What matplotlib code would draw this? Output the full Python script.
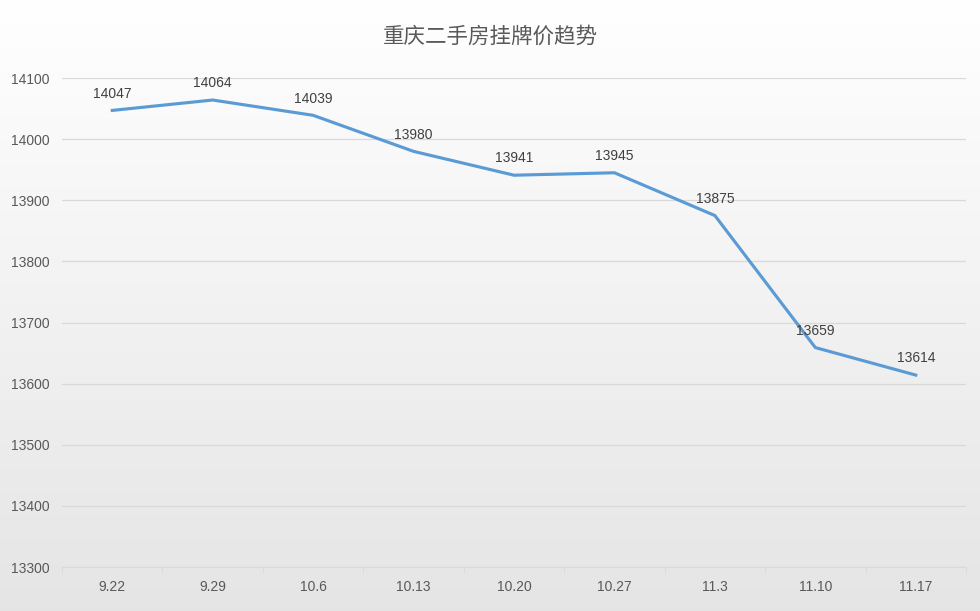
import numpy as np
import matplotlib
matplotlib.use("Agg")
from matplotlib import pyplot as plt

plt.rcParams['font.family'] = ['Liberation Sans', 'Noto Sans CJK SC', 'DejaVu Sans']

dates = ['9.22', '9.29', '10.6', '10.13', '10.20', '10.27', '11.3', '11.10', '11.17']
prices = [14047, 14064, 14039, 13980, 13941, 13945, 13875, 13659, 13614]
title = '重庆二手房挂牌价趋势'

text_color = '#595959'
line_color = '#5B9BD5'

fig = plt.figure(figsize=(9.8, 6.11), dpi=100)

# gradient background, white at top to light gray at bottom
bg = fig.add_axes([0, 0, 1, 1], zorder=0)
grad = np.linspace(1.0, 0.0, 256).reshape(-1, 1)
top = np.array([1.0, 1.0, 1.0])
bottom = np.array([0.898, 0.898, 0.898])
img = bottom + (top - bottom) * grad[..., None]
bg.imshow(img, aspect='auto', extent=[0, 1, 0, 1])
bg.axis('off')

ax = fig.add_axes([0.0633, 0.072, 0.9224, 0.8003], zorder=1)
ax.patch.set_alpha(0)

x = np.arange(len(dates))
ax.plot(x, prices, color=line_color, linewidth=2.25, solid_joinstyle='round')
for xi, p in zip(x, prices):
    ax.annotate(str(p), (xi, p), xytext=(0, 7), textcoords='offset points',
                ha='center', va='bottom', fontsize=10, color='#404040')

ax.set_xlim(-0.5, len(dates) - 0.5)
ax.set_ylim(13300, 14100)
ax.set_yticks(np.arange(13300, 14101, 100))
ax.set_xticks(x)
ax.set_xticklabels(dates)
ax.set_xticks(np.arange(-0.5, len(dates), 1), minor=True)
ax.tick_params(axis='x', which='major', length=0, colors=text_color, labelsize=10, pad=9)
ax.tick_params(axis='x', which='minor', length=4, color='#d9d9d9', direction='out')
ax.tick_params(axis='y', length=0, colors=text_color, labelsize=10, pad=9)
ax.grid(axis='y', color='#d9d9d9', linewidth=0.9)
ax.set_axisbelow(True)
for s in ['top', 'right', 'left']:
    ax.spines[s].set_visible(False)
ax.spines['bottom'].set_color('#d9d9d9')

fig.text(0.5, 0.94, title, ha='center', va='center', fontsize=15.5, color=text_color,
         family=['Noto Sans CJK SC', 'DejaVu Sans'])

fig.savefig('out.png', dpi=100)
